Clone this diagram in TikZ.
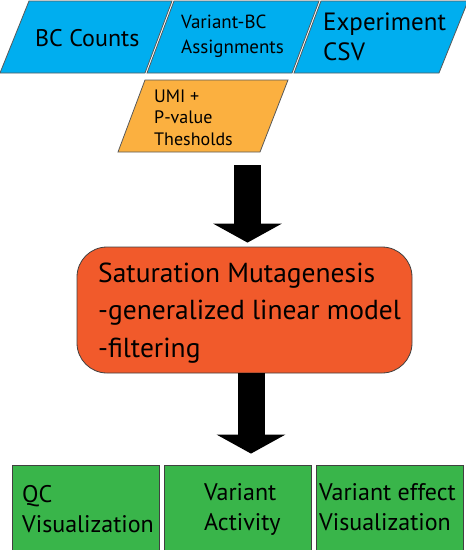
\documentclass[tikz,border=0pt]{standalone}
\usepackage{fontspec}
\setmainfont{PT Sans}
\usetikzlibrary{arrows.meta}
\definecolor{cblue}{HTML}{00AEEF}
\definecolor{corange}{HTML}{FBB040}
\definecolor{cred}{HTML}{F15A2B}
\definecolor{cgreen}{HTML}{39B54A}
\tikzset{
  para/.style={draw=black!65, line width=0.8pt},
  lbl/.style={anchor=base west, inner sep=0pt, align=left},
  greenbox/.style={draw=black!75, line width=0.8pt, fill=cgreen, minimum width=147pt, minimum height=86pt, inner sep=0pt},
  satbox/.style={draw=black!75, line width=0.8pt, fill=cred, rounded corners=30pt, minimum width=335pt, minimum height=126pt, inner sep=0pt},
  bigarrow/.style={line width=27pt, -{Triangle[width=68pt,length=19pt]}, black},
}
\begin{document}
\begin{tikzpicture}[x=1pt,y=-1pt]
\useasboundingbox (0,0) rectangle (466,550);
% input parallelograms
\fill[cblue] (29,1) -- (172,1) -- (145,73) -- (0,73) -- cycle;
\draw[para] (29,1) -- (172,1) -- (145,73) -- (0,73) -- cycle;
\fill[cblue] (174,1) -- (319,1) -- (292,73) -- (147,73) -- cycle;
\draw[para] (174,1) -- (319,1) -- (292,73) -- (147,73) -- cycle;
\fill[cblue] (321,1) -- (468,1) -- (439,73) -- (294,73) -- cycle;
\draw[para] (321,1) -- (468,1) -- (439,73) -- (294,73) -- cycle;
\fill[corange] (145,80) -- (288,80) -- (260,152) -- (118,152) -- cycle;
\draw[para] (145,80) -- (288,80) -- (260,152) -- (118,152) -- cycle;
\node[lbl, font=\fontsize{24}{25}\selectfont] (bc) at (35,46) {BC Counts};
\node[lbl, font=\fontsize{19}{24.5}\selectfont] (vbc) at (181,53) {Variant-BC\\Assignments};
\node[lbl, font=\fontsize{25}{30}\selectfont] (exp) at (323,60) {Experiment\\CSV};
\node[lbl, font=\fontsize{18}{21.5}\selectfont] (umi) at (154,145) {UMI +\\P-value\\Thesholds};
% central model
\node[satbox] (sat) at (244.5,310) {};
\node[lbl, font=\fontsize{27.5}{37.5}\selectfont] (sattext) at (98,357) {Saturation Mutagenesis\\-generalized linear model\\-filtering};
% outputs
\node[greenbox] (qc) at (85.5,508) {};
\node[greenbox] (act) at (238,508) {};
\node[greenbox] (eff) at (389.5,508) {};
\node[lbl, font=\fontsize{24}{30}\selectfont] (qct) at (22,532) {QC\\Visualization};
\node[lbl, font=\fontsize{24}{30}\selectfont] (actt) at (204,530) {Variant\\Activity};
\node[lbl, font=\fontsize{24}{30}\selectfont] (efft) at (319,530) {Variant effect\\Visualization};
% arrows
\coordinate (a1s) at (247.5,165);
\coordinate (a2s) at (251,373);
\draw[bigarrow, shorten >=4pt] (a1s) -- (a1s |- sat.north);
\draw[bigarrow, shorten >=11pt] (a2s) -- (a2s |- act.north);
\end{tikzpicture}
\end{document}
